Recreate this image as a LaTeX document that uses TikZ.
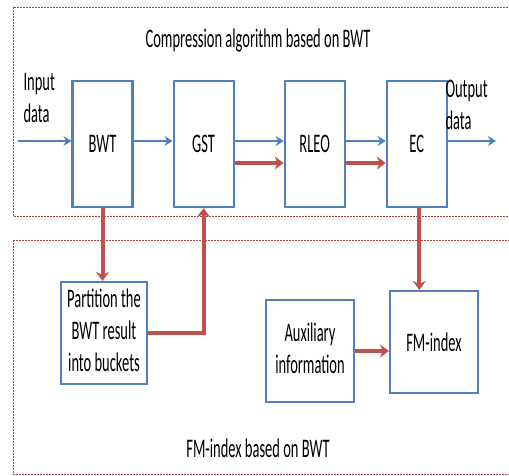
\documentclass[tikz,border=0pt]{standalone}
\usepackage{fontspec}
\setmainfont{Carlito}
\usepackage{graphicx}
\usepackage{xcolor}
\usetikzlibrary{arrows.meta,positioning,calc}
\definecolor{boxblue}{RGB}{79,129,189}
\definecolor{arrred}{RGB}{192,80,77}
\newcommand{\tallbox}[1]{\scalebox{1}[1.85]{#1}}
\newcommand{\talllines}[1]{\tallbox{\begin{tabular}{@{}c@{}}#1\end{tabular}}}

\begin{document}
\begin{tikzpicture}[x=1pt,y=-1pt,node distance=40pt,font=\fontsize{14.5}{17.5}\selectfont]
        \tikzstyle{block}=[rectangle,minimum width=60pt,minimum height=126pt,draw=boxblue,line width=2.1pt,fill=white,inner sep=0pt]
        \tikzstyle{lowblock}=[block,minimum width=86pt,minimum height=102pt]
        \tikzstyle{frame}=[draw=arrred!85!black,line width=0.9pt,dash pattern=on 2pt off 1pt]
        \tikzstyle{blueflow}=[draw=boxblue,line width=2.4pt,-{Stealth[length=8pt,width=10pt,inset=2.5pt]}]
        \tikzstyle{redflow}=[draw=arrred,line width=4pt,-{Stealth[length=9pt,width=13pt,inset=3pt]}]
        \clip (0,0) rectangle (509,476);
        \fill[white] (0,0) rectangle (509,476);
        % the two dashed frames
        \draw[frame] (13,7) rectangle (560,216);
        \draw[frame] (13,240) rectangle (560,474);
        \node (title) at (258,40) {\tallbox{Compression algorithm based on BWT}};
        \node (fmtitle) at (258,448) {\tallbox{FM-index based on BWT}};
        % compression chain
        \node[block] (bwt) at (102.5,144) {\tallbox{BWT}};
        \node[block,right=39pt of bwt] (gst) {\tallbox{GST}};
        \node[block,right=49pt of gst] (rleo) {\tallbox{RLEO}};
        \node[block,right=of rleo] (ec) {\tallbox{EC}};
        \node[anchor=west,align=left] (inlabel) at (20,100) {\tallbox{\begin{tabular}{@{}l@{}}Input\\data\end{tabular}}};
        \node[anchor=west,align=left] (outlabel) at (442,107) {\tallbox{\begin{tabular}{@{}l@{}}Output\\data\end{tabular}}};
        \coordinate (src) at (18,141);
        \coordinate (sink) at (496,141);
        % FM-index part
        \node[lowblock] (part) at (104,333) {\talllines{Partition the\\BWT result\\into buckets}};
        \node[lowblock,minimum width=88pt] (aux) at (310,351) {\talllines{Auxiliary\\information}};
        \node[lowblock,minimum width=88pt] (fm) at (434,342) {\tallbox{FM-index}};
        \draw[blueflow] (src) -- (src -| bwt.west);
        \draw[blueflow] ([yshift=3pt]bwt.east) -- ([yshift=3pt]gst.west);
        \draw[blueflow] ([yshift=3pt]gst.east) -- ([yshift=3pt]rleo.west);
        \draw[blueflow] ([yshift=3pt]rleo.east) -- ([yshift=3pt]ec.west);
        \draw[blueflow] ([yshift=3pt]ec.east) -- (sink);
        \draw[redflow] ([yshift=-19pt]gst.east) -- ([yshift=-19pt]rleo.west);
        \draw[redflow] ([yshift=-19pt]rleo.east) -- ([yshift=-19pt]ec.west);
        \draw[redflow] (bwt.south) -- (bwt.south |- part.north);
        \draw[redflow] (part.east) -| (gst.south);
        \draw[redflow] ([xshift=2.5pt]ec.south) -- ([xshift=2.5pt]ec.south |- fm.north);
        \draw[redflow] (aux.east) -- (aux.east -| fm.west);
\end{tikzpicture}
\end{document}
